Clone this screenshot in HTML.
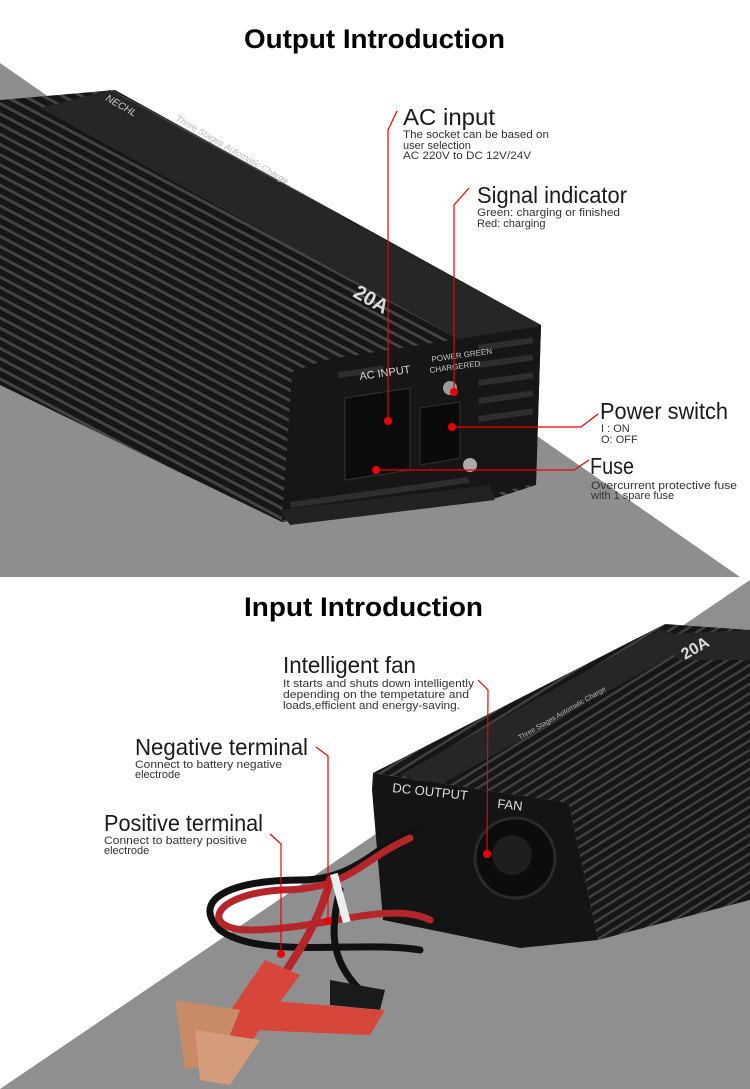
<!DOCTYPE html>
<html><head><meta charset="utf-8"><style>
html,body{margin:0;padding:0;background:#fff;width:750px;height:1089px;overflow:hidden}
svg{display:block}
text{font-family:"Liberation Sans",sans-serif;fill:#222}
.t{font-weight:bold;fill:#000;font-size:27px}
.l{font-size:23px;fill:#1a1a1a}
.s{font-size:11px;fill:#333}
</style></head><body>
<svg width="750" height="1089" viewBox="0 0 750 1089" xmlns="http://www.w3.org/2000/svg">
<defs>
<pattern id="fins" width="9" height="9" patternUnits="userSpaceOnUse" patternTransform="rotate(28)"><rect width="9" height="9" fill="#161616"/><rect width="9" height="3" fill="#444"/></pattern>
<pattern id="fins2" width="8" height="8" patternUnits="userSpaceOnUse" patternTransform="rotate(-32)"><rect width="8" height="8" fill="#161616"/><rect width="8" height="2.5" fill="#404040"/></pattern>
</defs>
<!-- top section -->
<polygon points="0,63 740,577 0,577" fill="#8e8e8e"/>
<text class="t" x="244" y="48" textLength="261" lengthAdjust="spacingAndGlyphs">Output Introduction</text>
<!-- device 1 body -->
<polygon points="0,100 115,90 541,325 536,485 490,500 282,522 0,385" fill="url(#fins)"/>
<polygon points="110,90 541,325 470,345 40,108" fill="#262626"/>
<text x="105" y="100" style="fill:#ccc;font-size:10px;font-style:italic" transform="rotate(30 105 100)">NECHL</text>
<text x="175" y="120" style="fill:#bbb;font-size:9px;font-style:italic" transform="rotate(30 175 120)">Three Stages Automatic Charge</text>
<text x="352" y="296" style="fill:#ddd;font-weight:bold;font-size:20px" transform="rotate(30 352 296)">20A</text>
<!-- front face -->
<polygon points="325,360 541,326 536,483 478,498 282,520 292,372" fill="#161616"/>
<g fill="#2e2e2e">
<rect x="338" y="372" width="45" height="6" transform="rotate(-8 338 372)"/>
<rect x="478" y="345" width="55" height="6" transform="rotate(-8 478 345)"/>
<rect x="478" y="362" width="55" height="6" transform="rotate(-8 478 362)"/>
<rect x="478" y="380" width="55" height="6" transform="rotate(-8 478 380)"/>
<rect x="478" y="398" width="55" height="6" transform="rotate(-8 478 398)"/>
<rect x="478" y="416" width="55" height="6" transform="rotate(-8 478 416)"/>
<rect x="290" y="502" width="180" height="6" transform="rotate(-8 290 502)"/>
</g>
<polygon points="345,398 410,388 410,470 345,480" fill="#0b0b0b" stroke="#333"/>
<polygon points="420,408 460,402 460,458 420,465" fill="#0a0a0a" stroke="#2f2f2f"/>
<circle cx="450" cy="388" r="7" fill="#9a9a9a"/>
<circle cx="470" cy="465" r="7" fill="#aaa"/>
<polygon points="280,510 490,485 495,500 290,525" fill="#222"/>
<text x="360" y="380" style="fill:#ddd;font-size:11px" transform="rotate(-8 360 380)">AC INPUT</text>
<text x="432" y="362" style="fill:#ccc;font-size:8px" transform="rotate(-8 432 362)">POWER GREEN</text>
<text x="430" y="373" style="fill:#ccc;font-size:8px" transform="rotate(-8 430 373)">CHARGERED</text>
<!-- callouts top -->
<g stroke="#e00" stroke-width="1.2" fill="none">
<polyline points="388,421 388,130 397,111"/>
<polyline points="454,392 454,205 469,188"/>
<polyline points="452,427 581,427 598,414"/>
<polyline points="376,470 574,470 589,460"/>
</g>
<g fill="#e00"><circle cx="388" cy="421" r="4"/><circle cx="454" cy="392" r="4"/><circle cx="452" cy="427" r="4"/><circle cx="376" cy="470" r="4"/></g>
<text class="l" x="403" y="125" textLength="92" lengthAdjust="spacingAndGlyphs">AC input</text>
<text class="s" x="403" y="138" textLength="146" lengthAdjust="spacingAndGlyphs">The socket can be based on</text>
<text class="s" x="403" y="149">user selection</text>
<text class="s" x="403" y="159" textLength="128" lengthAdjust="spacingAndGlyphs">AC 220V to DC 12V/24V</text>
<text class="l" x="477" y="203" textLength="150" lengthAdjust="spacingAndGlyphs">Signal indicator</text>
<text class="s" x="477" y="216" textLength="143" lengthAdjust="spacingAndGlyphs">Green: charging or finished</text>
<text class="s" x="477" y="227">Red: charging</text>
<text class="l" x="600" y="419" textLength="128" lengthAdjust="spacingAndGlyphs">Power switch</text>
<text class="s" x="601" y="432">I : ON</text>
<text class="s" x="601" y="443">O: OFF</text>
<text class="l" x="590" y="474" textLength="44" lengthAdjust="spacingAndGlyphs">Fuse</text>
<text class="s" x="591" y="489" textLength="146" lengthAdjust="spacingAndGlyphs">Overcurrent protective fuse</text>
<text class="s" x="591" y="499">with 1 spare fuse</text>
<!-- bottom section -->
<polygon points="750,580 750,1089 0,1089" fill="#8f8f8f"/>
<text class="t" x="244" y="616" textLength="239" lengthAdjust="spacingAndGlyphs">Input Introduction</text>
<!-- device 2 -->
<polygon points="373,773 665,624 750,630 750,900 598,940 569,803" fill="url(#fins2)"/>
<polygon points="400,775 660,630 700,640 440,785" fill="#262626"/>
<polygon points="650,635 750,630 750,660 680,660" fill="#262626"/>
<text x="685" y="660" style="fill:#ddd;font-weight:bold;font-size:16px" transform="rotate(-30 685 660)">20A</text>
<text x="520" y="740" style="fill:#bbb;font-size:7px" transform="rotate(-30 520 740)">Three Stages Automatic Charge</text>
<polygon points="373,773 569,803 598,940 520,948 383,920 372,790" fill="#141414"/>
<text x="392" y="792" style="fill:#ddd;font-size:13px" transform="rotate(6 392 792)">DC OUTPUT</text>
<text x="497" y="808" style="fill:#ddd;font-size:13px" transform="rotate(6 497 808)">FAN</text>
<circle cx="515" cy="858" r="40" fill="#0c0c0c" stroke="#2a2a2a" stroke-width="3"/>
<circle cx="512" cy="855" r="20" fill="#1e1e1e"/>
<!-- cables -->
<g fill="none" stroke-linecap="round">
<path d="M420,828 C380,840 360,880 300,880 C230,880 190,900 220,930 C260,960 360,940 420,950" stroke="#111" stroke-width="7"/>
<path d="M410,838 C360,860 350,890 280,890 C210,895 200,930 250,930 C320,930 390,900 430,920" stroke="#b5262a" stroke-width="7"/>
<path d="M330,880 C320,920 300,950 280,980" stroke="#b5262a" stroke-width="8"/>
<path d="M340,890 C330,930 330,960 360,990" stroke="#111" stroke-width="7"/>
</g>
<rect x="330" y="875" width="8" height="50" fill="#eee" transform="rotate(-15 330 875)"/>
<!-- clamps -->
<polygon points="265,960 300,975 245,1050 210,1040" fill="#d7463a"/>
<polygon points="330,980 385,990 380,1010 330,1005" fill="#1a1a1a"/>
<polygon points="260,1000 385,1010 370,1035 250,1030" fill="#d7463a"/>
<polygon points="175,1000 240,1010 220,1060 185,1070" fill="#c98a67"/>
<polygon points="195,1030 260,1040 230,1085 200,1080" fill="#d49c7a"/>
<!-- callouts bottom -->
<g stroke="#e00" stroke-width="1.2" fill="none">
<polyline points="478,680 488,690 487,854"/>
<polyline points="316,747 328,756 328,921"/>
<polyline points="270,834 281,844 281,954"/>
</g>
<g fill="#e00"><circle cx="487" cy="854" r="4"/><circle cx="328" cy="921" r="4"/><circle cx="281" cy="954" r="4"/></g>
<text class="l" x="283" y="673" textLength="133" lengthAdjust="spacingAndGlyphs">Intelligent fan</text>
<text class="s" x="283" y="687" textLength="191" lengthAdjust="spacingAndGlyphs">It starts and shuts down intelligently</text>
<text class="s" x="283" y="698" textLength="186" lengthAdjust="spacingAndGlyphs">depending on the tempetature and</text>
<text class="s" x="283" y="709" textLength="177" lengthAdjust="spacingAndGlyphs">loads,efficient and energy-saving.</text>
<text class="l" x="135" y="755" textLength="173" lengthAdjust="spacingAndGlyphs">Negative terminal</text>
<text class="s" x="135" y="768" textLength="147" lengthAdjust="spacingAndGlyphs">Connect to battery negative</text>
<text class="s" x="135" y="778">electrode</text>
<text class="l" x="104" y="831" textLength="159" lengthAdjust="spacingAndGlyphs">Positive terminal</text>
<text class="s" x="104" y="844" textLength="143" lengthAdjust="spacingAndGlyphs">Connect to battery positive</text>
<text class="s" x="104" y="854">electrode</text>
</svg>
</body></html>
